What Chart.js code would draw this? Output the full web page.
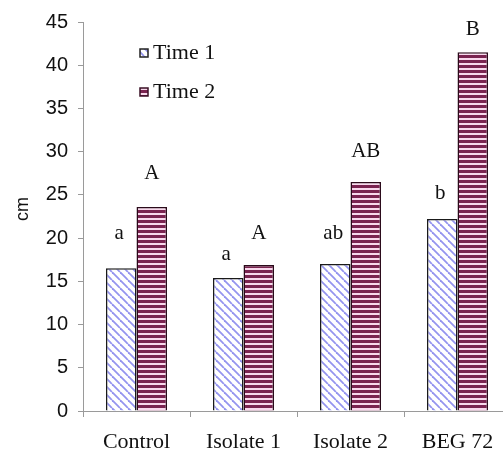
<!DOCTYPE html>
<html>
<head>
<meta charset="utf-8">
<script src="https://cdn.jsdelivr.net/npm/chart.js@4/dist/chart.umd.min.js"></script>
<style>
  html, body { margin: 0; padding: 0; background: #fff; overflow: hidden; }
  #wrap { width: 512px; height: 456px; }
</style>
</head>
<body>
<div id="wrap"><canvas id="c" width="512" height="456"></canvas></div>
<script>
const categories = ['Control', 'Isolate 1', 'Isolate 2', 'BEG 72'];
const seriesNames = ['Time 1', 'Time 2'];
const time1 = [16.5, 15.4, 17.0, 22.2];
const time2 = [23.6, 16.9, 26.5, 41.5];
const letters1 = ['a', 'a', 'ab', 'b'];
const letters2 = ['A', 'A', 'AB', 'B'];
const letterY1 = [20.5, 18.1, 20.5, 25.2];
const letterY2 = [27.5, 20.5, 30.0, 44.1];
const yMin = 0, yMax = 45, yStep = 5;

function diagPattern(size) {
  const c = document.createElement('canvas');
  c.width = size; c.height = size;
  const g = c.getContext('2d');
  g.fillStyle = '#ffffff';
  g.fillRect(0, 0, size, size);
  g.strokeStyle = '#9494ef';
  g.lineWidth = 1.8;
  for (let k = -1; k <= 1; k++) {
    g.beginPath();
    g.moveTo(k * size, 0);
    g.lineTo(k * size + size, size);
    g.stroke();
  }
  return g.createPattern(c, 'repeat');
}
function stripePattern() {
  const c = document.createElement('canvas');
  c.width = 4; c.height = 5;
  const g = c.getContext('2d');
  g.fillStyle = '#f8d8ec';
  g.fillRect(0, 0, 4, 5);
  g.fillStyle = '#7a2350';
  g.fillRect(0, 0, 4, 3);
  return g.createPattern(c, 'repeat');
}
const fill1 = diagPattern(8);
const fill2 = stripePattern();

const serif = '"Liberation Serif", "Times New Roman", serif';
const sans = '"Liberation Sans", Arial, sans-serif';

const overlay = {
  id: 'overlay',
  afterDatasetsDraw(chart) {
    const ctx = chart.ctx;
    const y = chart.scales.y;
    const m1 = chart.getDatasetMeta(0), m2 = chart.getDatasetMeta(1);
    ctx.save();
    ctx.fillStyle = '#111';
    ctx.font = '21px ' + serif;
    ctx.textAlign = 'center';
    ctx.textBaseline = 'middle';
    categories.forEach((c, i) => {
      ctx.fillText(letters1[i], m1.data[i].x - 2, y.getPixelForValue(letterY1[i]));
      ctx.fillText(letters2[i], m2.data[i].x, y.getPixelForValue(letterY2[i]));
    });
    // legend
    const items = [[fill1, '#222', 52], [fill2, '#3a0f25', 91]];
    ctx.textAlign = 'left';
    ctx.font = '22px ' + serif;
    items.forEach((it, i) => {
      const bx = 140, by = it[2] - 3;
      ctx.fillStyle = it[0];
      ctx.fillRect(bx, by, 8, 8);
      ctx.lineWidth = 1.5;
      ctx.strokeStyle = it[1];
      ctx.strokeRect(bx, by, 8, 8);
      ctx.fillStyle = '#111';
      ctx.fillText(seriesNames[i], 153, it[2] + 1);
    });
    // axis title
    ctx.translate(23, 209);
    ctx.rotate(-Math.PI / 2);
    ctx.textAlign = 'center';
    ctx.font = '18px ' + sans;
    ctx.fillText('cm', 0, 0);
    ctx.restore();
  }
};

new Chart(document.getElementById('c'), {
  type: 'bar',
  data: {
    labels: categories,
    datasets: [
      { label: seriesNames[0], data: time1, backgroundColor: fill1, borderColor: '#1a1a1a', borderWidth: 1.5, borderSkipped: 'bottom' },
      { label: seriesNames[1], data: time2, backgroundColor: fill2, borderColor: '#2a0a1a', borderWidth: 1.5, borderSkipped: 'bottom' }
    ]
  },
  options: {
    responsive: false,
    animation: false,
    layout: { padding: { top: 20, right: 1, left: 0, bottom: 0 } },
    datasets: { bar: { categoryPercentage: 0.57, barPercentage: 1.0 } },
    plugins: { legend: { display: false }, tooltip: { enabled: false } },
    scales: {
      x: {
        grid: { display: true, drawOnChartArea: false, drawTicks: true, tickLength: 6, color: '#9a9a9a', offset: true },
        border: { display: true, color: '#9a9a9a', width: 1 },
        ticks: { color: '#111', font: { family: serif, size: 22 }, padding: 12, maxRotation: 0 },
        afterFit: s => { s.height = 45; }
      },
      y: {
        min: yMin, max: yMax,
        grid: { display: true, drawOnChartArea: false, drawTicks: true, tickLength: 5, color: '#9a9a9a' },
        border: { display: true, color: '#9a9a9a', width: 1 },
        ticks: { stepSize: yStep, color: '#111', font: { family: sans, size: 20 }, padding: 10 },
        afterFit: s => { s.width = 83; }
      }
    }
  },
  plugins: [overlay]
});
</script>
</body>
</html>
